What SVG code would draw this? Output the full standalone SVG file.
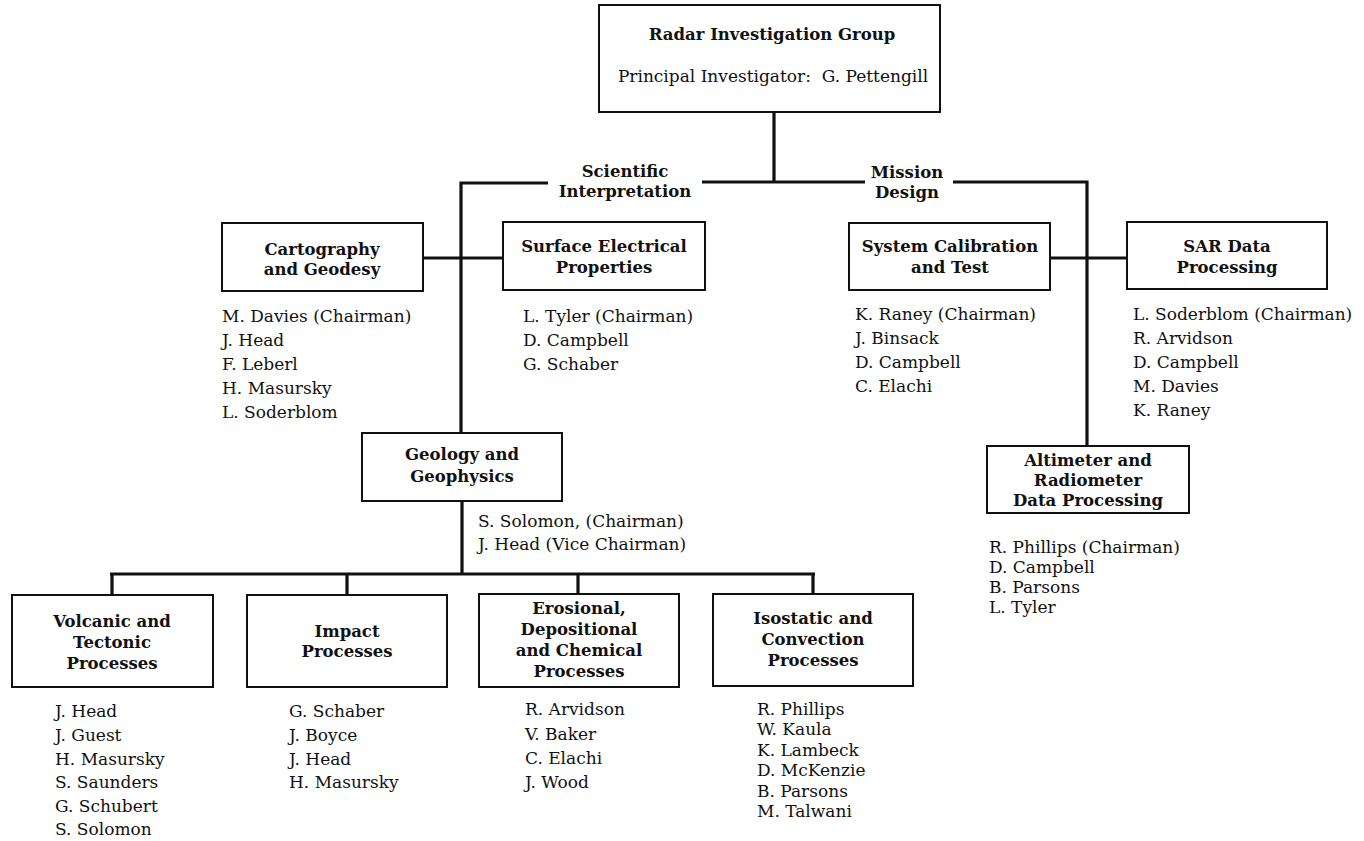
<svg xmlns="http://www.w3.org/2000/svg" width="1364" height="841" viewBox="0 0 1364 841">
  <style>
    .box { fill: #ffffff; stroke: #111111; stroke-width: 2; }
    .conn { fill: none; stroke: #111111; stroke-width: 3.2; stroke-linecap: butt; }
    .title { font-family: "DejaVu Serif", "Liberation Serif", serif; font-size: 16.5px; font-weight: bold; fill: #111111; text-anchor: middle; }
    .label { font-family: "DejaVu Serif", "Liberation Serif", serif; font-size: 16.5px; font-weight: bold; fill: #111111; text-anchor: middle; }
    .name { font-family: "DejaVu Serif", "Liberation Serif", serif; font-size: 17px; fill: #111111; }
    .sub { font-family: "DejaVu Serif", "Liberation Serif", serif; font-size: 17px; fill: #111111; text-anchor: middle; }
  </style>
  <rect width="1364" height="841" fill="#ffffff"/>

  <!-- connector lines -->
  <g id="connectors">
    <!-- root stem and top bar -->
    <path class="conn" d="M774 112 V182 M702 182 H865"/>
    <!-- Scientific Interpretation branch -->
    <path class="conn" d="M548 183 H461 V433"/>
    <path class="conn" d="M423 258 H503"/>
    <!-- Mission Design branch -->
    <path class="conn" d="M953 182 H1087 V446"/>
    <path class="conn" d="M1050 258 H1127"/>
    <!-- Geology and Geophysics sub-groups -->
    <path class="conn" d="M462 501 V574 M110 574 H815"/>
    <path class="conn" d="M112 573 V595 M347 573 V595 M578 573 V594 M813 573 V594"/>
  </g>

  <g id="branch-labels">
    <text class="label" x="625" y="177">Scientific</text>
    <text class="label" x="625" y="197">Interpretation</text>
    <text class="label" x="907" y="178">Mission</text>
    <text class="label" x="907" y="198">Design</text>
  </g>

  <g id="radar-investigation-group">
    <rect class="box" x="599" y="5" width="341" height="107"/>
    <text class="title" x="772" y="40">Radar Investigation Group</text>
    <text class="sub" x="773" y="82" xml:space="preserve">Principal Investigator:  G. Pettengill</text>
  </g>

  <g id="cartography-geodesy">
    <rect class="box" x="222" y="223" width="201" height="68"/>
    <text class="title" x="322" y="255">Cartography</text>
    <text class="title" x="322" y="275">and Geodesy</text>
    <text class="name" x="222" y="322">M. Davies (Chairman)</text>
    <text class="name" x="222" y="346">J. Head</text>
    <text class="name" x="222" y="370">F. Leberl</text>
    <text class="name" x="222" y="394">H. Masursky</text>
    <text class="name" x="222" y="418">L. Soderblom</text>
  </g>

  <g id="surface-electrical">
    <rect class="box" x="503" y="222" width="202" height="68"/>
    <text class="title" x="604" y="252">Surface Electrical</text>
    <text class="title" x="604" y="273">Properties</text>
    <text class="name" x="523" y="322">L. Tyler (Chairman)</text>
    <text class="name" x="523" y="346">D. Campbell</text>
    <text class="name" x="523" y="370">G. Schaber</text>
  </g>

  <g id="system-calibration">
    <rect class="box" x="849" y="223" width="201" height="67"/>
    <text class="title" x="950" y="252">System Calibration</text>
    <text class="title" x="950" y="273">and Test</text>
    <text class="name" x="855" y="320">K. Raney (Chairman)</text>
    <text class="name" x="855" y="344">J. Binsack</text>
    <text class="name" x="855" y="368">D. Campbell</text>
    <text class="name" x="855" y="392">C. Elachi</text>
  </g>

  <g id="sar-data-processing">
    <rect class="box" x="1127" y="222" width="200" height="67"/>
    <text class="title" x="1227" y="252">SAR Data</text>
    <text class="title" x="1227" y="273">Processing</text>
    <text class="name" x="1133" y="320">L. Soderblom (Chairman)</text>
    <text class="name" x="1133" y="344">R. Arvidson</text>
    <text class="name" x="1133" y="368">D. Campbell</text>
    <text class="name" x="1133" y="392">M. Davies</text>
    <text class="name" x="1133" y="416">K. Raney</text>
  </g>

  <g id="altimeter-radiometer">
    <rect class="box" x="987" y="446" width="202" height="67"/>
    <text class="title" x="1088" y="466">Altimeter and</text>
    <text class="title" x="1088" y="486">Radiometer</text>
    <text class="title" x="1088" y="506">Data Processing</text>
    <text class="name" x="989" y="553">R. Phillips (Chairman)</text>
    <text class="name" x="989" y="573">D. Campbell</text>
    <text class="name" x="989" y="593">B. Parsons</text>
    <text class="name" x="989" y="613">L. Tyler</text>
  </g>

  <g id="geology-geophysics">
    <rect class="box" x="362" y="433" width="200" height="68"/>
    <text class="title" x="462" y="460">Geology and</text>
    <text class="title" x="462" y="482">Geophysics</text>
    <text class="name" x="478" y="527">S. Solomon, (Chairman)</text>
    <text class="name" x="478" y="550">J. Head (Vice Chairman)</text>
  </g>

  <g id="volcanic-tectonic">
    <rect class="box" x="12" y="595" width="201" height="92"/>
    <text class="title" x="112" y="627">Volcanic and</text>
    <text class="title" x="112" y="648">Tectonic</text>
    <text class="title" x="112" y="669">Processes</text>
    <text class="name" x="55" y="717">J. Head</text>
    <text class="name" x="55" y="741">J. Guest</text>
    <text class="name" x="55" y="765">H. Masursky</text>
    <text class="name" x="55" y="788">S. Saunders</text>
    <text class="name" x="55" y="812">G. Schubert</text>
    <text class="name" x="55" y="835">S. Solomon</text>
  </g>

  <g id="impact-processes">
    <rect class="box" x="247" y="595" width="200" height="92"/>
    <text class="title" x="347" y="637">Impact</text>
    <text class="title" x="347" y="657">Processes</text>
    <text class="name" x="289" y="717">G. Schaber</text>
    <text class="name" x="289" y="741">J. Boyce</text>
    <text class="name" x="289" y="765">J. Head</text>
    <text class="name" x="289" y="788">H. Masursky</text>
  </g>

  <g id="erosional-depositional">
    <rect class="box" x="479" y="594" width="200" height="93"/>
    <text class="title" x="579" y="614">Erosional,</text>
    <text class="title" x="579" y="635">Depositional</text>
    <text class="title" x="579" y="656">and Chemical</text>
    <text class="title" x="579" y="677">Processes</text>
    <text class="name" x="525" y="715">R. Arvidson</text>
    <text class="name" x="525" y="740">V. Baker</text>
    <text class="name" x="525" y="764">C. Elachi</text>
    <text class="name" x="525" y="788">J. Wood</text>
  </g>

  <g id="isostatic-convection">
    <rect class="box" x="713" y="594" width="200" height="92"/>
    <text class="title" x="813" y="624">Isostatic and</text>
    <text class="title" x="813" y="645">Convection</text>
    <text class="title" x="813" y="666">Processes</text>
    <text class="name" x="757" y="715">R. Phillips</text>
    <text class="name" x="757" y="735">W. Kaula</text>
    <text class="name" x="757" y="756">K. Lambeck</text>
    <text class="name" x="757" y="776">D. McKenzie</text>
    <text class="name" x="757" y="797">B. Parsons</text>
    <text class="name" x="757" y="817">M. Talwani</text>
  </g>
</svg>
